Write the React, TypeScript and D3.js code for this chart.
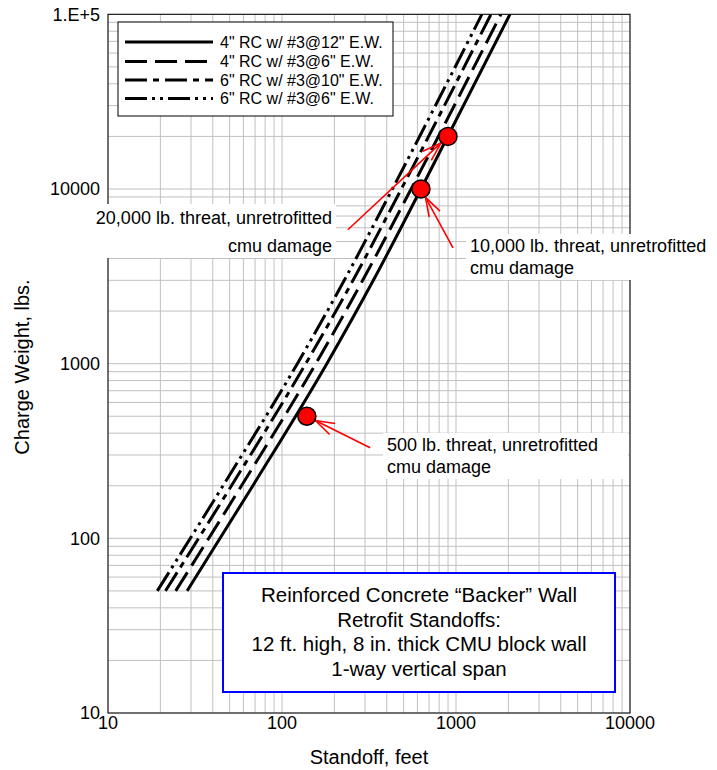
import React from 'react';
import * as d3 from 'd3';

// ---- data ----
const chargeWeights = [50, 200, 1000, 3000, 10000, 100000];
const standoff4in12 = [28.5, 68, 181, 335, 629, 2042];
const standoff4in6 = [24.5, 58.5, 156.5, 291, 552, 1811];
const standoff6in10 = [21.4, 51.2, 137, 256, 485, 1589];
const standoff6in6 = [19.2, 45.8, 122.5, 228, 431, 1409];
const seriesNames = [
  '4" RC w/ #3@12" E.W.',
  '4" RC w/ #3@6" E.W.',
  '6" RC w/ #3@10" E.W.',
  '6" RC w/ #3@6" E.W.',
];
const xTickValues = [10, 100, 1000, 10000];
const xTickLabels = ['10', '100', '1000', '10000'];
const yTickValues = [10, 100, 1000, 10000, 100000];
const yTickLabels = ['10', '100', '1000', '10000', '1.E+5'];
const threatStandoffs = [139, 629, 899];
const threatWeights = [500, 10000, 20000];
const arrowTailStandoffs = [321, 961, 239];
const arrowTailWeights = [330, 4600, 5840];
const threatLine1 = ['500 lb. threat, unretrofitted', '10,000 lb. threat, unretrofitted', '20,000 lb. threat, unretrofitted'];
const threatLine2 = ['cmu damage', 'cmu damage', 'cmu damage'];
const boxLines = [
  'Reinforced Concrete \u201cBacker\u201d Wall',
  'Retrofit Standoffs:',
  '12 ft. high, 8 in. thick CMU block wall',
  '1-way vertical span',
];

// ---- layout ----
const W = 717, H = 770;
const L = 108, R = 630, T = 14.3, B = 713;
const FONT = '"Liberation Sans", Arial, sans-serif';
const dashes = [null, '22,8', '22,6,6,6', '22,5,3,5,3,5'];

export default function App() {
  const x = d3.scaleLog().domain([10, 10000]).range([L, R]);
  const y = d3.scaleLog().domain([10, 100000]).range([B, T]);
  const series = [standoff4in12, standoff4in6, standoff6in10, standoff6in6];
  const line = d3
    .line<[number, number]>()
    .x((d) => x(d[0]))
    .y((d) => y(d[1]))
    .curve(d3.curveMonotoneX);

  const xGrid = x.ticks();
  const yGrid = y.ticks();

  const annot = [
    { tx: 387, ty1: 445, ty2: 467, anchor: 'start', rect: [383, 433, 245, 46] },
    { tx: 470, ty1: 246, ty2: 268, anchor: 'start', rect: [466, 234, 251, 46] },
    { tx: 332, ty1: 218, ty2: 246, anchor: 'end', rect: [88, 204, 248, 54] },
  ];

  const arrows = threatStandoffs.map((s, i) => {
    const cx = x(s), cy = y(threatWeights[i]);
    const tx = x(arrowTailStandoffs[i]), ty = y(arrowTailWeights[i]);
    const ang = Math.atan2(ty - cy, tx - cx);
    const r = 9.5;
    const hx = cx + r * Math.cos(ang), hy = cy + r * Math.sin(ang);
    const al = 20, spread = (18 * Math.PI) / 180;
    const a1 = [hx + al * Math.cos(ang + spread), hy + al * Math.sin(ang + spread)];
    const a2 = [hx + al * Math.cos(ang - spread), hy + al * Math.sin(ang - spread)];
    return { hx, hy, tx, ty, a1, a2 };
  });

  const legendRowsY = [42, 61.5, 80, 98.5];

  return (
    <svg
      width={W}
      height={H}
      style={{ position: 'absolute', left: 0, top: 0, background: '#fff' }}
      fontFamily={FONT}
    >
      <defs>
        <clipPath id="plotClip">
          <rect x={L} y={T} width={R - L} height={B - T} />
        </clipPath>
      </defs>
      <rect x={0} y={0} width={W} height={H} fill="#fff" />
      <g stroke="#c0c0c0" strokeWidth={1}>
        {xGrid.map((v, i) => (
          <line key={'gx' + i} x1={x(v)} x2={x(v)} y1={T} y2={B} />
        ))}
        {yGrid.map((v, i) => (
          <line key={'gy' + i} x1={L} x2={R} y1={y(v)} y2={y(v)} />
        ))}
      </g>
      <rect x={L} y={T} width={R - L} height={B - T} fill="none" stroke="#000" strokeWidth={1} />

      {xTickValues.map((v, i) => (
        <text key={'xt' + i} x={x(v)} y={B + 10} dy="0.35em" textAnchor="middle" fontSize={18} fill="#000">
          {xTickLabels[i]}
        </text>
      ))}
      {yTickValues.map((v, i) => (
        <text key={'yt' + i} x={100} y={y(v)} dy="0.35em" textAnchor="end" fontSize={18} fill="#000">
          {yTickLabels[i]}
        </text>
      ))}
      <text x={369} y={757} dy="0.35em" textAnchor="middle" fontSize={20} fill="#000">
        Standoff, feet
      </text>
      <text
        transform={`translate(22,367) rotate(-90)`}
        dy="0.35em"
        textAnchor="middle"
        fontSize={20}
        fill="#000"
      >
        Charge Weight, lbs.
      </text>

      <g clipPath="url(#plotClip)">
        {series.map((s, i) => (
          <path
            key={'s' + i}
            d={line(s.map((v, j) => [v, chargeWeights[j]] as [number, number])) || ''}
            fill="none"
            stroke="#000"
            strokeWidth={3}
            strokeDasharray={dashes[i] || undefined}
          />
        ))}
      </g>

      <rect x={118} y={22} width={275} height={94} fill="#fff" stroke="#000" strokeWidth={1} />
      {seriesNames.map((n, i) => (
        <g key={'lg' + i}>
          <line
            x1={125}
            x2={213}
            y1={legendRowsY[i]}
            y2={legendRowsY[i]}
            stroke="#000"
            strokeWidth={3}
            strokeDasharray={dashes[i] || undefined}
          />
          <text x={220} y={legendRowsY[i]} dy="0.35em" fontSize={16} fill="#000">
            {n}
          </text>
        </g>
      ))}

      <rect x={223} y={573} width={392} height={119} fill="#fff" stroke="#0000ff" strokeWidth={2} />
      {boxLines.map((t, i) => (
        <text key={'bl' + i} x={419} y={595 + i * 24.5} dy="0.35em" textAnchor="middle" fontSize={20.5} fill="#000">
          {t}
        </text>
      ))}

      {annot.map((a, i) => (
        <g key={'an' + i}>
          <rect x={a.rect[0]} y={a.rect[1]} width={a.rect[2]} height={a.rect[3]} fill="#fff" />
          <text x={a.tx} y={a.ty1} dy="0.35em" textAnchor={a.anchor as any} fontSize={18} fill="#000">
            {threatLine1[i]}
          </text>
          <text x={a.tx} y={a.ty2} dy="0.35em" textAnchor={a.anchor as any} fontSize={18} fill="#000">
            {threatLine2[i]}
          </text>
        </g>
      ))}

      <g stroke="#ff0000" strokeWidth={1.6} fill="none">
        {arrows.map((a, i) => (
          <g key={'ar' + i}>
            <line x1={a.tx} y1={a.ty} x2={a.hx} y2={a.hy} />
            <line x1={a.hx} y1={a.hy} x2={a.a1[0]} y2={a.a1[1]} />
            <line x1={a.hx} y1={a.hy} x2={a.a2[0]} y2={a.a2[1]} />
          </g>
        ))}
      </g>

      {threatStandoffs.map((s, i) => (
        <circle key={'c' + i} cx={x(s)} cy={y(threatWeights[i])} r={9} fill="#ff0000" stroke="#000" strokeWidth={1.5} />
      ))}
    </svg>
  );
}
